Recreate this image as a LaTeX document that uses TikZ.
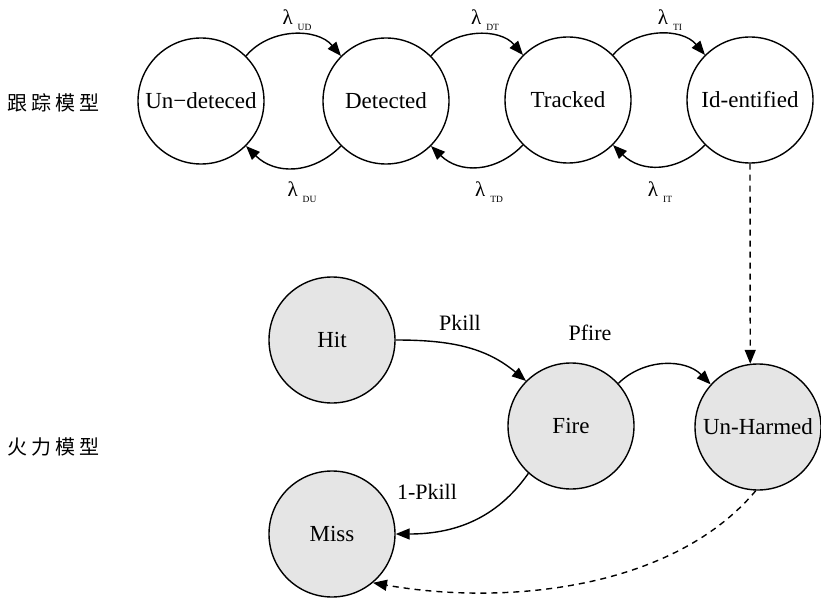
\documentclass[tikz,border=0pt]{standalone}
\usepackage{fontspec}
\setmainfont{Liberation Serif}
\newfontfamily\cjk{Noto Sans CJK SC}
\usetikzlibrary{arrows.meta}
\newcommand\lamsub[1]{λ\hspace{5pt}\raisebox{-6pt}{\fontsize{9.5}{10}\selectfont #1}}

\begin{document}
\begin{tikzpicture}[x=1pt,y=-1pt,line width=1.4pt,
		state/.style={draw,circle,minimum size=126pt,inner sep=0pt,font=\fontsize{23}{27}\selectfont},
		shot/.style={state,fill=gray!20},
		rate/.style={inner sep=0pt,font=\fontsize{21}{24}\selectfont},
		prob/.style={inner sep=0pt,font=\fontsize{22}{26}\selectfont},
		model/.style={anchor=west,inner sep=0pt,font=\cjk\fontsize{20}{24}\selectfont},
		link/.style={-{Triangle[length=14pt,width=11pt]}},
		hint/.style={link,dash pattern=on 6pt off 5pt}]
		%%%%% START %%%%%
		\useasboundingbox (0,0) rectangle (821,601);
		
		\node[model] (trackmodel) at (7,103) {跟\hspace{4pt}踪\hspace{4pt}模\hspace{4pt}型};
		\node[model] (firemodel) at (7,447) {火\hspace{4pt}力\hspace{4pt}模\hspace{4pt}型};
		
		\node[state] (undet) at (201,101) {Un−deteced};
		\node[state] (det) at (386,101) {Detected};
		\node[state] (track) at (568,100) {Tracked};
		\node[state] (ident) at (750,100) {Id-entified};
		
		\node[shot] (hit) at (332,340) {Hit};
		\node[shot] (fire) at (571,426) {Fire};
		\node[shot] (unharm) at (758,427) {Un-Harmed};
		\node[shot] (miss) at (332,534) {Miss};
		
		\draw[link] (undet.45) to[bend left=50] (det.135);
		\draw[link] (det.45) to[bend left=50] (track.135);
		\draw[link] (track.45) to[bend left=50] (ident.135);
		\draw[link] (det.-135) to[bend left=45,looseness=1.1] (undet.-45);
		\draw[link] (track.-135) to[bend left=45,looseness=1.1] (det.-45);
		\draw[link] (ident.-135) to[bend left=45,looseness=1.1] (track.-45);
		
		\node[rate] (rud) at (297,20) {\lamsub{UD}};
		\node[rate] (rdt) at (485,20) {\lamsub{DT}};
		\node[rate] (rti) at (670,20) {\lamsub{TI}};
		\node[rate] (rdu) at (302,192) {\lamsub{DU}};
		\node[rate] (rtd) at (489,192) {\lamsub{TD}};
		\node[rate] (rit) at (660,192) {\lamsub{IT}};
		
		\draw[hint] (ident.south) -- (unharm.97);
		
		\draw[link] (hit.east) to[out=0,in=140] (fire.135);
		\draw[link] (fire.42) to[bend left=45] (unharm.138);
		\draw[link] (fire.-132) to[out=-125,in=0] (miss.east);
		\draw[hint] (unharm.-92) to[out=-130,in=-10,looseness=0.85] (miss.-50);
		
		\node[prob] (pkill) at (460,323) {Pkill};
		\node[prob] (pfire) at (590,333) {Pfire};
		\node[prob] (pmiss) at (427,492) {1-Pkill};
		
		%%%%% END %%%%%
	\end{tikzpicture}
\end{document}
